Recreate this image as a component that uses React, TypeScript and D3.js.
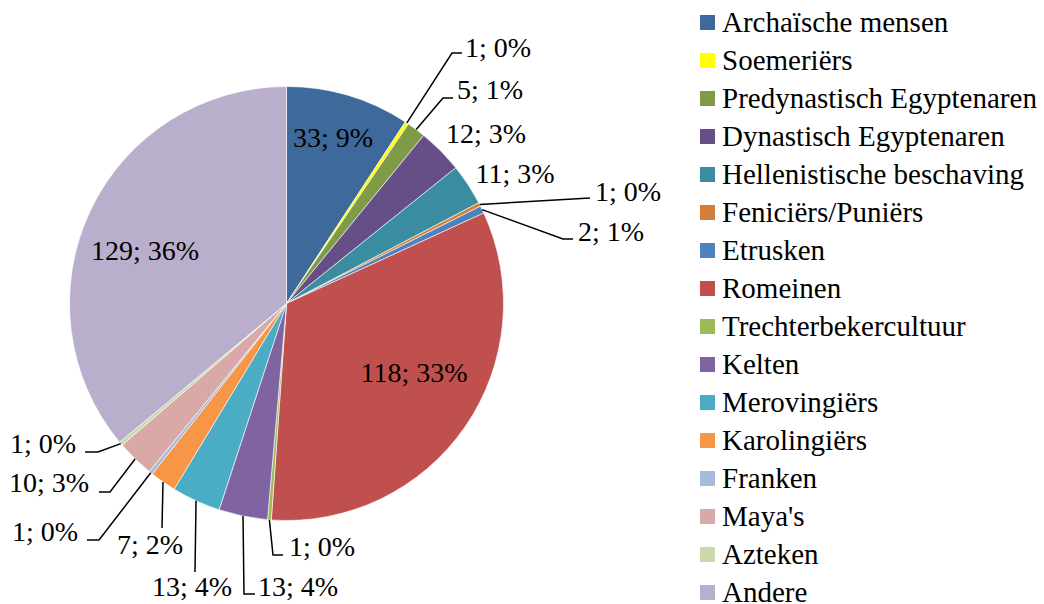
import { useEffect, useRef } from 'react';
import * as d3 from 'd3';

// ── Data ──

const CATEGORIES = [
  'Archaïsche mensen',
  'Soemeriërs',
  'Predynastisch Egyptenaren',
  'Dynastisch Egyptenaren',
  'Hellenistische beschaving',
  'Feniciërs/Puniërs',
  'Etrusken',
  'Romeinen',
  'Trechterbekercultuur',
  'Kelten',
  'Merovingiërs',
  'Karolingiërs',
  'Franken',
  "Maya's",
  'Azteken',
  'Andere',
];

const COUNTS = [33, 1, 5, 12, 11, 1, 2, 118, 1, 13, 13, 7, 1, 10, 1, 129];

const COLORS = [
  '#3D6A9B',
  '#FFFF00',
  '#7F9B48',
  '#664F86',
  '#3A8DA1',
  '#D17F3A',
  '#4F81BD',
  '#C0504D',
  '#9BBB59',
  '#8064A2',
  '#4BACC6',
  '#F79646',
  '#A8BBDA',
  '#D9A9A8',
  '#C8D9AC',
  '#B9AFCC',
];

// ── Label placement (Excel style, manual per slice) ──
// tx/ty = text anchor + baseline; leader = points after the slice edge point

interface LabelPos {
  tx: number;
  ty: number;
  anchor: 'start' | 'middle' | 'end';
  leader?: [number, number][];
}

const LABEL_POS: LabelPos[] = [
  { tx: 333, ty: 147, anchor: 'middle' },
  { tx: 465, ty: 57, anchor: 'start', leader: [[452, 53], [462, 53]] },
  { tx: 457, ty: 99, anchor: 'start', leader: [[443, 98], [453, 98]] },
  { tx: 486, ty: 143, anchor: 'middle' },
  { tx: 515, ty: 183, anchor: 'middle' },
  { tx: 595, ty: 201, anchor: 'start', leader: [[590, 198]] },
  { tx: 578, ty: 241, anchor: 'start', leader: [[563, 239], [573, 239]] },
  { tx: 414, ty: 382, anchor: 'middle' },
  { tx: 289, ty: 556, anchor: 'start', leader: [[273, 555], [283, 555]] },
  { tx: 258, ty: 596, anchor: 'start', leader: [[244, 594], [255, 594]] },
  { tx: 192, ty: 596, anchor: 'middle', leader: [[195, 572]] },
  { tx: 150, ty: 554, anchor: 'middle', leader: [[162, 528]] },
  { tx: 78, ty: 541, anchor: 'end', leader: [[99, 540], [87, 540]] },
  { tx: 89, ty: 492, anchor: 'end', leader: [[110, 492], [99, 492]] },
  { tx: 76, ty: 453, anchor: 'end', leader: [[98, 452], [85, 452]] },
  { tx: 145, ty: 260, anchor: 'middle' },
];

const W = 1044;
const H = 604;
const CX = 286.5;
const CY = 303.5;
const R = 217;

export default function App() {
  const svgRef = useRef<SVGSVGElement>(null);

  useEffect(() => {
    const svgEl = svgRef.current;
    if (!svgEl) return;
    const svg = d3.select(svgEl);
    svg.selectAll('*').remove();

    const total = d3.sum(COUNTS);
    const arcs = d3
      .pie<number>()
      .sort(null)
      .value((d) => d)(COUNTS);
    const arcGen = d3.arc<d3.PieArcDatum<number>>().innerRadius(0).outerRadius(R);
    const edgeGen = d3.arc<d3.PieArcDatum<number>>().innerRadius(R).outerRadius(R);

    // slices
    svg
      .append('g')
      .attr('transform', `translate(${CX},${CY})`)
      .selectAll('path')
      .data(arcs)
      .enter()
      .append('path')
      .attr('d', (d) => arcGen(d) || '')
      .attr('fill', (_, i) => COLORS[i])
      .attr('stroke', '#fff')
      .attr('stroke-width', 0.6);

    // leader lines
    svg
      .append('g')
      .selectAll('path')
      .data(arcs.filter((_, i) => LABEL_POS[i].leader))
      .enter()
      .append('path')
      .attr('fill', 'none')
      .attr('stroke', '#000')
      .attr('stroke-width', 1.5)
      .attr('d', (d) => {
        const [ex, ey] = edgeGen.centroid(d);
        const pts: [number, number][] = [[ex + CX, ey + CY], ...LABEL_POS[d.index].leader!];
        return d3.line()(pts) || '';
      });

    // data labels
    svg
      .append('g')
      .selectAll('text')
      .data(arcs)
      .enter()
      .append('text')
      .attr('x', (d) => LABEL_POS[d.index].tx)
      .attr('y', (d) => LABEL_POS[d.index].ty)
      .attr('text-anchor', (d) => LABEL_POS[d.index].anchor)
      .attr('font-size', 28)
      .attr('fill', '#000')
      .text((d) => `${d.data}; ${Math.round((d.data / total) * 100)}%`);

    // legend
    const legendY = d3.scalePoint<string>().domain(CATEGORIES).range([22.5, 592.5]);
    const lg = svg
      .append('g')
      .selectAll('g')
      .data(CATEGORIES)
      .enter()
      .append('g')
      .attr('transform', (c) => `translate(700,${legendY(c)})`);
    lg.append('rect')
      .attr('y', -7.5)
      .attr('width', 15)
      .attr('height', 15)
      .attr('fill', (_, i) => COLORS[i]);
    lg.append('text')
      .attr('x', 22)
      .attr('y', 9)
      .attr('font-size', 29)
      .attr('fill', '#000')
      .text((c) => c);
  }, []);

  return (
    <svg
      ref={svgRef}
      width={W}
      height={H}
      style={{ position: 'absolute', left: 0, top: 0 }}
    />
  );
}
